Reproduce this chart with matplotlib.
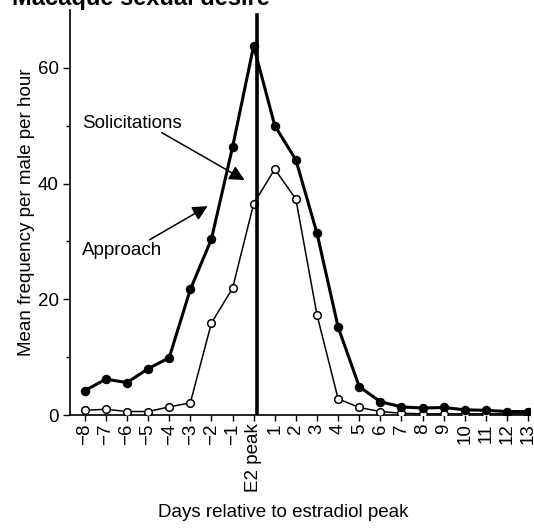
import matplotlib
matplotlib.use("Agg")
import matplotlib.pyplot as plt

plt.rcParams['font.family'] = ['Liberation Sans', 'DejaVu Sans']

# days relative to the estradiol peak
days = list(range(-8, 14))
day_labels = ['\u22128', '\u22127', '\u22126', '\u22125', '\u22124', '\u22123', '\u22122', '\u22121',
              'E2 peak', '1', '2', '3', '4', '5', '6', '7', '8', '9', '10', '11', '12', '13']

# filled circles, thick line
solicit = [4.2, 6.2, 5.6, 8.0, 9.9, 21.7, 30.4, 46.3, 63.8, 50.0, 44.1, 31.4,
           15.2, 4.9, 2.3, 1.4, 1.2, 1.3, 0.9, 0.8, 0.6, 0.6]
# open circles, thin line
approach = [0.8, 1.0, 0.6, 0.6, 1.4, 2.1, 15.9, 21.9, 36.5, 42.5, 37.3, 17.3,
            2.8, 1.3, 0.6, 0.3, 0.2, 0.2, 0.2, 0.2, 0.2, 0.2]

fig = plt.figure(figsize=(5.34, 5.29), dpi=100)
ax = fig.add_axes([0.131, 0.2155, 0.862, 0.7656])

ax.plot(days, approach, color='black', lw=1.1, marker='o', ms=5.5,
        mfc='white', mec='black', mew=1.1, zorder=3)
ax.plot(days, solicit, color='black', lw=2.2, marker='o', ms=5.8,
        mfc='black', mec='black', zorder=4)

# estradiol peak marker line
ax.axvline(0.15, ymax=0.988, color='black', lw=2.6, zorder=5)

ax.set_xlim(-8.7, 13.1)
ax.set_ylim(0, 70)
ax.set_xticks(days)
ax.set_xticklabels(day_labels, rotation=90, fontsize=13.5)
ax.set_yticks([0, 20, 40, 60])
ax.set_yticks([10, 30, 50], minor=True)
ax.tick_params(axis='y', labelsize=13.5, length=5, width=1, pad=3)
ax.tick_params(axis='y', which='minor', length=3, width=1)
ax.tick_params(axis='x', length=4, width=1, pad=2)

for s in ['top', 'right']:
    ax.spines[s].set_visible(False)
ax.spines['left'].set_linewidth(1.2)
ax.spines['bottom'].set_linewidth(1.2)

ax.set_ylabel('Mean frequency per male per hour', fontsize=13.5, labelpad=2)
fig.text(0.53, 0.022, 'Days relative to estradiol peak', fontsize=13.5,
         ha='center', va='baseline')

arrow = dict(arrowstyle='-|>,head_length=0.9,head_width=0.45', color='black', lw=1.1,
             shrinkA=0, shrinkB=0)
ax.text(-8.14, 49.6, 'Solicitations', fontsize=13.5, va='baseline')
ax.annotate('', xy=(-0.43, 40.6), xytext=(-4.35, 48.8), arrowprops=arrow)
ax.text(-8.14, 27.7, 'Approach', fontsize=13.5, va='baseline')
ax.annotate('', xy=(-2.18, 36.1), xytext=(-4.92, 30.3), arrowprops=arrow)

# title is cut off at the top edge in the original
fig.text(12 / 534, 1 - 5 / 529, 'Macaque sexual desire', fontsize=17,
         fontweight='bold', va='baseline')

fig.savefig('out.png', dpi=100)
